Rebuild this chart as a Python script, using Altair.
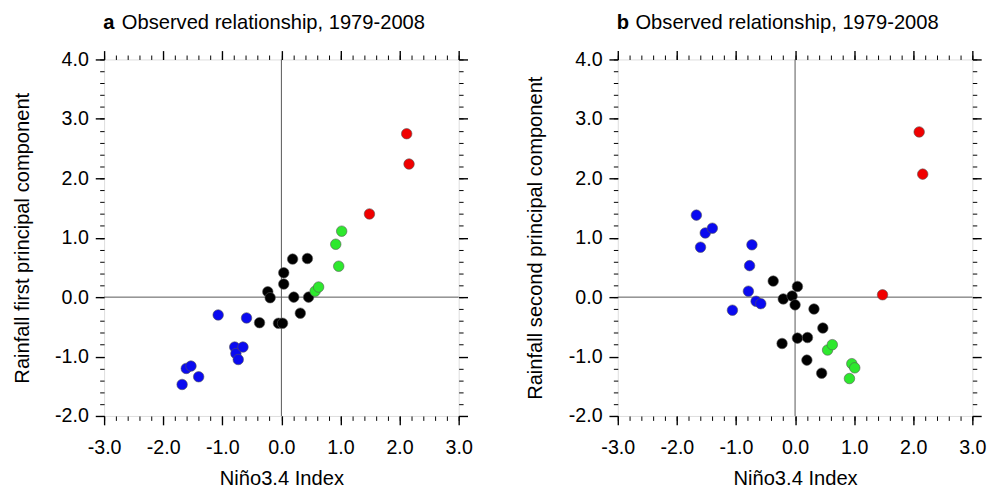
import altair as alt
import pandas as pd

# Panel a: Niño3.4 index vs. rainfall first principal component
a_nino = [-1.68, -1.61, -1.53, -1.40, -1.07, -0.79, -0.77, -0.73, -0.65, -0.59,
          -0.37, -0.23, -0.19, -0.05, 0.02, 0.04, 0.04, 0.19, 0.21, 0.32, 0.44, 0.46,
          0.57, 0.63, 0.92, 0.97, 1.02,
          1.49, 2.12, 2.16]
a_pc = [-1.47, -1.20, -1.16, -1.34, -0.30, -0.84, -0.95, -1.05, -0.84, -0.35,
        -0.43, 0.09, -0.01, -0.44, -0.44, 0.41, 0.22, 0.64, 0.00, -0.27, 0.65, 0.00,
        0.10, 0.17, 0.89, 0.52, 1.11,
        1.40, 2.75, 2.24]
a_cat = (["cold"] * 10) + (["neutral"] * 12) + (["warm"] * 5) + (["strong"] * 3)

# Panel b: Niño3.4 index vs. rainfall second principal component
b_nino = [-1.67, -1.60, -1.52, -1.40, -1.06, -0.79, -0.77, -0.73, -0.66, -0.58,
          -0.37, -0.22, -0.20, -0.05, 0.00, 0.04, 0.04, 0.20, 0.21, 0.32, 0.45, 0.47,
          0.55, 0.63, 0.92, 0.96, 1.01,
          1.48, 2.10, 2.16]
b_pc = [1.38, 0.84, 1.08, 1.16, -0.22, 0.10, 0.53, 0.88, -0.07, -0.11,
        0.27, -0.78, -0.03, 0.02, -0.13, 0.18, -0.69, -1.06, -0.68, -0.20, -1.28, -0.52,
        -0.89, -0.80, -1.37, -1.12, -1.19,
        0.04, 2.78, 2.07]
b_cat = a_cat

categories = ["cold", "neutral", "warm", "strong"]
cat_colors = ["#0a0af0", "#000000", "#2ee82e", "#f00000"]

x_major = [-3, -2, -1, 0, 1, 2, 3]
y_major = [-2, -1, 0, 1, 2, 3, 4]
x_minor = [round(-3 + 0.2 * i, 1) for i in range(31)]
y_minor = [round(-2 + 0.2 * i, 1) for i in range(31)]

FONT = "Liberation Sans"
LABEL_EXPR = ("datum.value < 0 ? '-' + format(-datum.value, '.1f') "
              ": format(datum.value, '.1f')")
W, H = 361, 363


def major_axis(orient, values, title=None):
    kw = dict(orient=orient, values=values, tickSize=9, tickWidth=1.4,
              tickColor="black", domain=False, grid=False)
    if title is not None:
        kw.update(labelExpr=LABEL_EXPR, labelFont=FONT, labelFontSize=20,
                  labelColor="black", labelFlush=False, labelOverlap=False,
                  labelPadding=13 if orient == "bottom" else 7,
                  title=title, titleFont=FONT, titleFontSize=20.5,
                  titleFontWeight="normal", titleColor="black",
                  titlePadding=12 if orient == "bottom" else 23)
    else:
        kw.update(labels=False, title=None)
    return alt.Axis(**kw)


def minor_axis(orient, values):
    return alt.Axis(orient=orient, values=values, tickSize=4.5, tickWidth=1,
                    tickColor="black", domain=False, grid=False, labels=False,
                    title=None)


def panel(xv, yv, cats, letter, ytitle):
    df = pd.DataFrame({"nino": xv, "pc": yv, "cat": cats})
    xs = alt.Scale(domain=[-3, 3], nice=False, zero=False)
    ys = alt.Scale(domain=[-2, 4], nice=False, zero=False)
    zero = pd.DataFrame({"v": [0]})

    pts = alt.Chart(df).mark_circle(
        size=115, opacity=1, stroke="#555555", strokeWidth=0.6
    ).encode(
        x=alt.X("nino:Q", scale=xs, axis=major_axis("bottom", x_major, "Niño3.4 Index")),
        y=alt.Y("pc:Q", scale=ys, axis=major_axis("left", y_major, ytitle)),
        color=alt.Color("cat:N", scale=alt.Scale(domain=categories, range=cat_colors),
                        legend=None),
    )
    vline = alt.Chart(zero).mark_rule(color="#555555", strokeWidth=1).encode(
        x=alt.X("v:Q", scale=xs, axis=minor_axis("bottom", x_minor)))
    hline = alt.Chart(zero).mark_rule(color="#555555", strokeWidth=1).encode(
        y=alt.Y("v:Q", scale=ys, axis=minor_axis("left", y_minor)))
    top_right = alt.Chart(df).mark_point(opacity=0).encode(
        x=alt.X("nino:Q", scale=xs, axis=major_axis("top", x_major)),
        y=alt.Y("pc:Q", scale=ys, axis=major_axis("right", y_major)))
    top_right_minor = alt.Chart(df).mark_point(opacity=0).encode(
        x=alt.X("nino:Q", scale=xs, axis=minor_axis("top", x_minor)),
        y=alt.Y("pc:Q", scale=ys, axis=minor_axis("right", y_minor)))

    head = pd.DataFrame({"letter": [letter],
                         "rest": ["Observed relationship, 1979-2008"]})
    t1 = alt.Chart(head).mark_text(
        align="left", baseline="alphabetic", font=FONT, fontSize=20.5,
        fontWeight="bold", color="black"
    ).encode(x=alt.value(-1), y=alt.value(-31), text="letter:N")
    t2 = alt.Chart(head).mark_text(
        align="left", baseline="alphabetic", font=FONT, fontSize=20.5, color="black"
    ).encode(x=alt.value(18), y=alt.value(-31), text="rest:N")

    return alt.layer(
        vline, hline, top_right, top_right_minor, pts, t1, t2
    ).resolve_axis(x="independent", y="independent").properties(width=W, height=H)


pa = panel(a_nino, a_pc, a_cat, "a", "Rainfall first principal component")
pb = panel(b_nino, b_pc, b_cat, "b", "Rainfall second principal component")

chart = alt.hconcat(pa, pb, spacing=53).properties(
    padding={"left": 12, "top": 8, "right": 5, "bottom": 5}
).configure_view(stroke="black", strokeWidth=1.5).configure(background="white")

chart.save("out.html", embed_options={"renderer": "svg", "actions": False})
